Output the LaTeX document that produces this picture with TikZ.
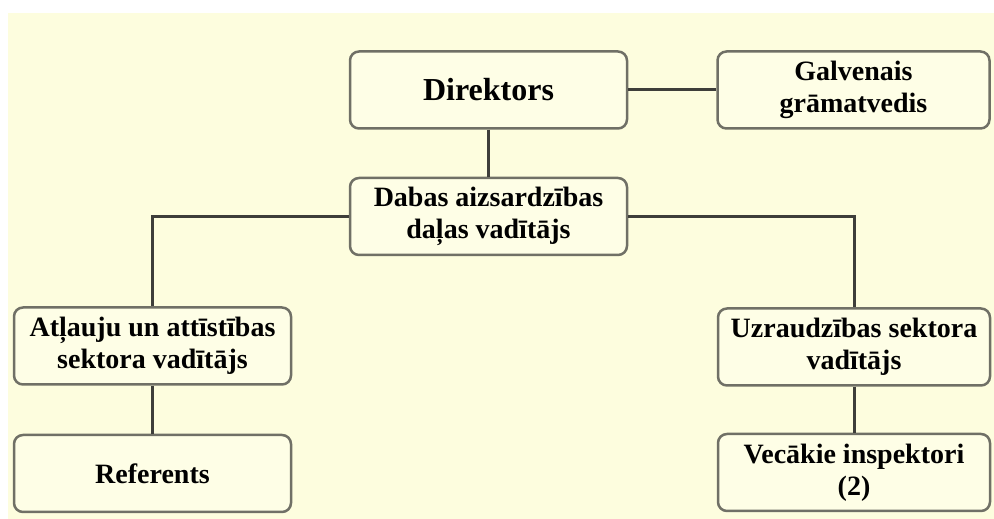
\documentclass[tikz,border=0pt]{standalone}
\usepackage{fontspec}
\setmainfont{Liberation Serif}
\usetikzlibrary{positioning}
\definecolor{bgyellow}{RGB}{253,253,222}
\definecolor{boxfill}{RGB}{254,254,230}
\definecolor{boxline}{RGB}{112,112,102}
\definecolor{linegray}{RGB}{62,62,58}
\tikzstyle{orgbox} = [draw=boxline, fill=boxfill, line width=2.5pt,
    rectangle, rounded corners=9pt, minimum width=277pt, minimum height=77pt,
    align=center, inner sep=0pt, font=\fontsize{28}{32}\selectfont\bfseries]
\tikzstyle{rightbox} = [orgbox, minimum width=272pt]
\tikzstyle{wire} = [draw=linegray, line width=3pt]

\begin{document}
\begin{tikzpicture}[x=1pt,y=1pt]

\fill[white] (0,0) rectangle (994,519);
\fill[bgyellow] (8,0) rectangle (994,506);
\useasboundingbox (0,0) rectangle (994,519);

\node [orgbox, font=\fontsize{32}{36}\selectfont\bfseries] (dir) at (488.5,429) {Direktors};
\node [rightbox, right=88pt of dir] (gal) {Galvenais\\grāmatvedis};
\node [orgbox, below=47pt of dir] (dab) {Dabas aizsardzības\\daļas vadītājs};

\node [orgbox] (atl) at (152.5,173) {Atļauju un attīstības\\sektora vadītājs};
\node [orgbox, below=48pt of atl] (ref) {Referents};

\node [rightbox] (uzr) at (854,172) {Uzraudzības sektora\\vadītājs};
\node [rightbox, below=46pt of uzr] (vec) {Vecākie inspektori\\(2)};

\draw [wire] (dir) -- (gal);
\draw [wire] (dir) -- (dab);
\draw [wire] (dab.west) -| (atl.north);
\draw [wire] (dab.east) -| (uzr.north);
\draw [wire] (atl) -- (ref);
\draw [wire] (uzr) -- (vec);

\end{tikzpicture}
\end{document}
